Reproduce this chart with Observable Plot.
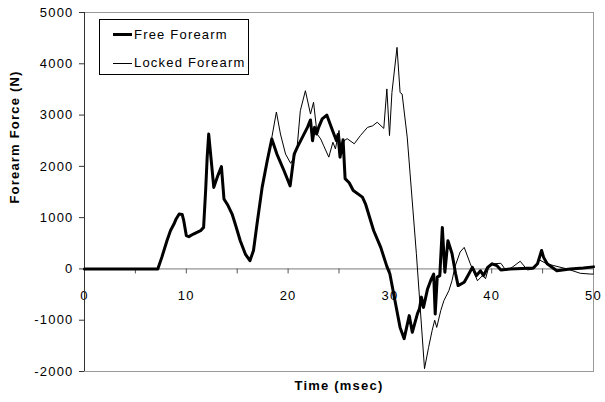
<!DOCTYPE html>
<html>
<head>
<meta charset="utf-8">
<script src="https://cdn.jsdelivr.net/npm/d3@7"></script>
<script src="https://cdn.jsdelivr.net/npm/@observablehq/plot@0.6"></script>
<style>
  body { margin: 0; background: #fff; }
  #wrap { position: relative; width: 605px; height: 402px; font-family: "Liberation Sans", Arial, sans-serif; }
  #legend { position: absolute; left: 99px; top: 19px; width: 148px; height: 54px; border: 1px solid #000; background: #fff; font-size: 13px; letter-spacing: 1.2px; }
  .row { position: absolute; left: 0; height: 16px; line-height: 16px; }
  .sw { position: absolute; left: 13px; width: 19px; background: #000; }
  .lab { position: absolute; left: 34px; white-space: nowrap; }
</style>
</head>
<body>
<div id="wrap"></div>
<script>
// Series names
const seriesNames = ["Free Forearm", "Locked Forearm"];

// Free Forearm: time (msec) and force (N)
const freeTime = [0, 7.2, 7.6, 8.1, 8.45, 8.8, 9.0, 9.3, 9.6, 9.75, 10.0, 10.25, 10.7, 11.4, 11.7, 11.9, 12.05, 12.2, 12.45, 12.7, 13.1, 13.45, 13.7, 14.1, 14.5, 14.8, 15.3, 15.8, 16.25, 16.6, 16.95, 17.45, 17.95, 18.4, 18.9, 19.6, 20.2, 20.6, 20.9, 21.4, 21.9, 22.2, 22.4, 22.6, 22.8, 23.0, 23.35, 23.8, 24.4, 24.75, 24.9, 25.1, 25.4, 25.6, 26.0, 26.4, 27.3, 27.6, 28.4, 29.1, 29.7, 30.0, 30.5, 31.0, 31.4, 31.9, 32.2, 32.7, 32.9, 33.1, 33.3, 33.7, 34.0, 34.3, 34.45, 34.65, 34.9, 35.15, 35.4, 35.7, 36.1, 36.45, 36.7, 37.3, 37.75, 38.1, 38.5, 38.9, 39.2, 39.6, 40.05, 40.5, 40.9, 41.8, 43.0, 44.1, 44.5, 44.9, 45.1, 45.45, 46.4, 47.7, 49.0, 50];
const freeForce = [0, 0, 230, 550, 750, 880, 975, 1070, 1060, 940, 650, 630, 680, 745, 810, 1530, 2175, 2630, 2110, 1590, 1820, 1995, 1365, 1235, 1070, 880, 550, 290, 160, 360, 880, 1590, 2110, 2535, 2240, 1915, 1620, 2240, 2370, 2565, 2760, 2905, 2500, 2760, 2630, 2760, 2925, 3000, 2680, 2500, 2620, 2180, 2520, 1760, 1680, 1530, 1400, 1270, 750, 420, 50, -100, -620, -1140, -1360, -910, -1235, -875, -780, -550, -750, -390, -230, -100, -880, -160, -130, 810, -65, 550, 300, -90, -325, -260, -100, 30, -130, -35, -130, 30, 100, 65, -20, 0, 10, 20, 100, 360, 225, 100, -35, 0, 20, 40];

// Locked Forearm: time (msec) and force (N)
const lockedTime = [0, 7.2, 7.6, 8.1, 8.45, 8.8, 9.0, 9.3, 9.6, 9.75, 10.0, 10.25, 10.7, 11.4, 11.7, 11.9, 12.05, 12.2, 12.45, 12.7, 13.1, 13.45, 13.7, 14.1, 14.5, 14.8, 15.3, 15.8, 16.25, 16.6, 16.95, 17.45, 17.95, 18.3, 18.85, 19.25, 19.75, 20.25, 20.6, 20.9, 21.2, 21.7, 22.2, 22.5, 22.85, 23.2, 23.5, 24.0, 24.4, 24.65, 25.0, 25.25, 25.5, 25.8, 26.5, 27.1, 27.8, 28.3, 28.75, 29.4, 29.7, 29.96, 30.2, 30.7, 31.0, 31.2, 31.7, 32.6, 33.4, 33.8, 34.15, 34.4, 34.6, 35.0, 35.3, 35.8, 36.1, 36.4, 36.9, 37.3, 37.9, 38.6, 39.1, 39.4, 39.7, 40.2, 40.9, 41.4, 42.0, 42.8, 43.5, 44.1, 44.7, 45.4, 46.1, 47.4, 48.7, 49.7, 50];
const lockedForce = [0, 0, 230, 550, 750, 880, 975, 1070, 1060, 940, 650, 630, 680, 745, 810, 1530, 2175, 2630, 2110, 1590, 1820, 1995, 1365, 1235, 1070, 880, 550, 290, 160, 360, 880, 1590, 2110, 2450, 3060, 2630, 2240, 2060, 2175, 2400, 3085, 3475, 3020, 3250, 2630, 2535, 2400, 2180, 2470, 2340, 2700, 2250, 2500, 2540, 2440, 2600, 2760, 2790, 2860, 2740, 3510, 2600, 3440, 4320, 3440, 3410, 2570, 300, -1945, -1530, -1200, -1000, -1140, -810, -620, -420, -230, 50, 330, 420, 100, -230, -130, -190, 30, 100, 110, -30, 30, 150, -20, 0, 175, 100, 65, 0, -85, -100, -100];

// Axis ticks
const yTicks = [-2000, -1000, 0, 1000, 2000, 3000, 4000, 5000];
const xTickMarks = [0, 5, 10, 15, 20, 25, 30, 35, 40, 45, 50];
const xTickLabels = [0, 10, 20, 30, 40, 50];
const xTitle = "Time (msec)";
const yTitle = "Forearm Force (N)";

const free = freeTime.map((t, i) => ({t, f: freeForce[i]}));
const locked = lockedTime.map((t, i) => ({t, f: lockedForce[i]}));

const chart = Plot.plot({
  width: 605,
  height: 402,
  marginLeft: 84,
  marginRight: 12,
  marginTop: 12,
  marginBottom: 31,
  style: {fontFamily: "'Liberation Sans', Arial, sans-serif", fontSize: "13px", letterSpacing: "1.2px", background: "#fff", color: "#000"},
  x: {domain: [0, 50], axis: null},
  y: {domain: [-2000, 5000], axis: null},
  marks: [
    Plot.frame({stroke: "#9a9a9a"}),
    Plot.ruleY([0], {stroke: "#7a7a7a"}),
    Plot.ruleX(xTickMarks, {x: d => d, y1: 0, y2: 0, insetBottom: -5, stroke: "#555"}),
    Plot.text(xTickLabels, {x: d => d, y: 0, dy: 27, text: d => String(d)}),
    Plot.axisY(yTicks, {tickSize: 5, tickPadding: 6, tickFormat: d => String(d), label: null, stroke: "#333"}),
    Plot.ruleX([0], {stroke: "#333"}),
    Plot.line(free, {x: "t", y: "f", stroke: "#000", strokeWidth: 3, strokeLinejoin: "round"}),
    Plot.line(locked, {x: "t", y: "f", stroke: "#000", strokeWidth: 1}),
    Plot.text([yTitle], {frameAnchor: "left", textAnchor: "middle", lineAnchor: "middle", dx: -70, dy: -55, rotate: -90, fontWeight: "bold"}),
    Plot.text([xTitle], {frameAnchor: "bottom", textAnchor: "middle", lineAnchor: "middle", dy: 14, fontWeight: "bold"})
  ]
});

const wrap = document.getElementById("wrap");
wrap.appendChild(chart);

const legend = document.createElement("div");
legend.id = "legend";
legend.innerHTML =
  `<div class="row" style="top:7px"><span class="sw" style="top:6px;height:3px"></span><span class="lab">${seriesNames[0]}</span></div>` +
  `<div class="row" style="top:35px"><span class="sw" style="top:8px;height:1px"></span><span class="lab">${seriesNames[1]}</span></div>`;
wrap.appendChild(legend);
</script>
</body>
</html>
